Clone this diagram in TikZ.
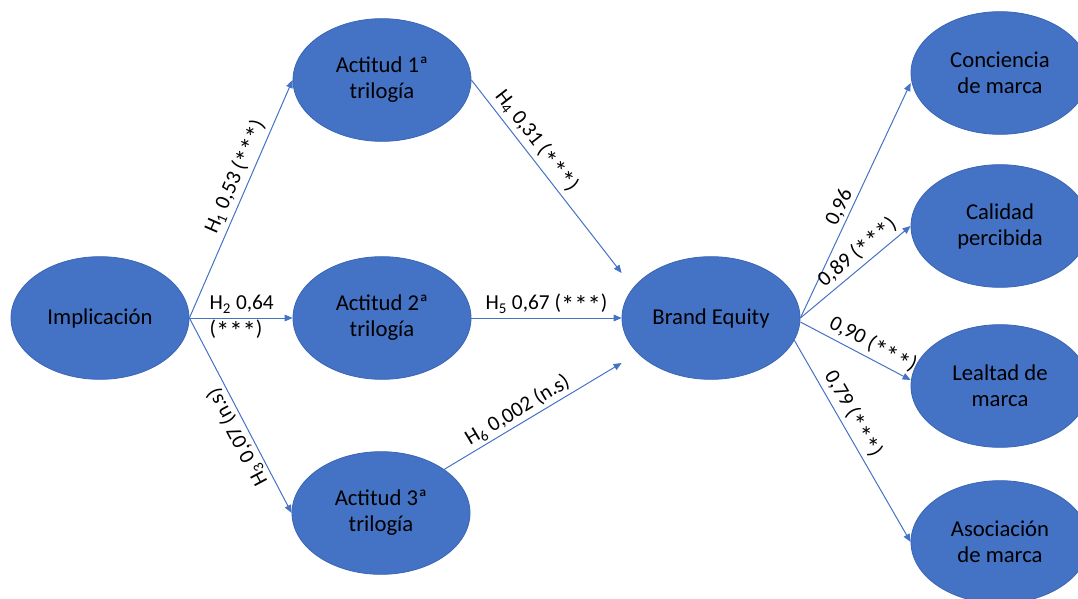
\documentclass[tikz,border=0pt]{standalone}
\usepackage{fontspec}
\setmainfont{Carlito}
\usetikzlibrary{arrows.meta,shapes.geometric}
\definecolor{nodeblue}{HTML}{4472C4}
\definecolor{nodeedge}{HTML}{3B66B5}
\definecolor{linkblue}{HTML}{4472C4}
\newcommand\sigstars{\raisebox{-0.5ex}{\scalebox{1.25}{***}}}
\begin{document}
\begin{tikzpicture}[x=0.75pt,y=-0.75pt,
  latent/.style={ellipse, fill=nodeblue, draw=nodeedge, line width=0.6pt,
    minimum width=133.5pt, minimum height=92pt, inner sep=0pt, align=center,
    font=\fontsize{17}{19.5}\selectfont, text=black},
  link/.style={draw=linkblue, line width=0.75pt, -{Triangle[length=6pt,width=5pt]}},
  lab/.style={font=\fontsize{16}{19.5}\selectfont, inner sep=2pt, text=black}]
\useasboundingbox (0,0) rectangle (1078,599);
\clip (0,0) rectangle (1078,599);

\node[latent] (imp) at (100,318) {Implicación};
\node[latent] (a1) at (382,80) {Actitud 1ª\\trilogía};
\node[latent] (a2) at (382,318) {Actitud 2ª\\trilogía};
\node[latent] (a3) at (381,513) {Actitud 3ª\\trilogía};
\node[latent] (be) at (711,318) {Brand Equity};
\node[latent] (con) at (1000,73) {Conciencia\\de marca};
\node[latent] (cal) at (1000,226) {Calidad\\percibida};
\node[latent] (lea) at (1000,386) {Lealtad de\\marca};
\node[latent] (aso) at (1000,542) {Asociación\\de marca};

\draw[link] (imp.east) -- (a1.west)
  node[lab, sloped, above, pos=0.57] {H\textsubscript{1} 0,53 (\sigstars)};
\draw[link] (imp.east) -- (a2.west);
\node[lab, anchor=west, align=left, inner sep=0pt] (h2) at ([xshift=15pt]imp.east)
  {H\textsubscript{2} 0,64\\(\sigstars)};
\draw[link] (imp.east) -- (a3.west)
  node[lab, pos=0.58, rotate=118, anchor=south] {H\textsubscript{3} 0,07 (n.s)};

\draw[link] (a1.east) -- ([yshift=33.75pt]be.west)
  node[lab, sloped, above, pos=0.36] {H\textsubscript{4} 0,31 (\sigstars)};
\draw[link] (a2.east) -- (be.west)
  node[lab, above, midway] {H\textsubscript{5} 0,67 (\sigstars)};
\draw[link] (a3.north east) -- ([yshift=-33.75pt]be.west)
  node[lab, sloped, above, pos=0.45] {H\textsubscript{6} 0,002 (n.s)};

\draw[link] (be.east) -- ([yshift=-7.5pt]con.west)
  node[lab, sloped, above, pos=0.45] {0,96};
\draw[link] (be.east) -- (cal.west)
  node[lab, sloped, above, pos=0.6] {0,89 (\sigstars)};
\draw[link] ([yshift=-3pt]be.east) -- ([yshift=4.5pt]lea.west)
  node[lab, sloped, above, pos=0.6] {0,90 (\sigstars)};
\draw[link] (be.-15) -- (aso.west)
  node[lab, sloped, above, pos=0.4] {0,79 (\sigstars)};
\end{tikzpicture}
\end{document}
